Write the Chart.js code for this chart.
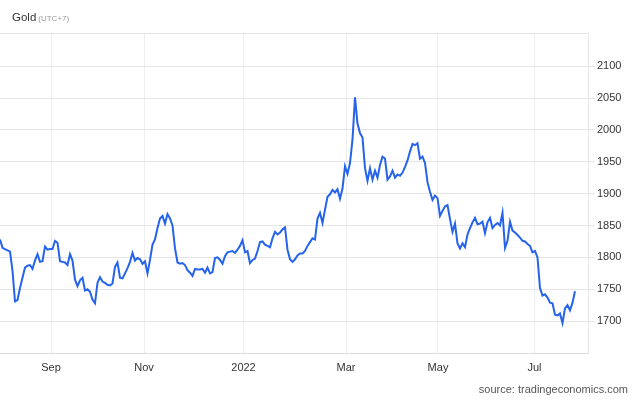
<!DOCTYPE html>
<html><head><meta charset="utf-8">
<style>html,body{margin:0;padding:0;background:#fff;}#wrap{position:relative;width:640px;height:402px;}</style>
<script src="https://cdn.jsdelivr.net/npm/chart.js@4"></script>
</head><body><div id="wrap"><canvas id="c" width="640" height="402"></canvas></div>
<script>
const goldPrices = [
1828,1815,1813,1811,1809,1779,1731,1733,1752,1768,
1784,1787,1788,1782,1795,1805,1793,1794,1817,1812,
1813,1813,1826,1823,1794,1793,1792,1788,1805,1795,
1765,1755,1764,1768,1748,1750,1746,1734,1728,1760,
1769,1762,1760,1757,1756,1759,1785,1792,1768,1767,
1775,1783,1793,1807,1795,1799,1797,1790,1794,1775,
1796,1820,1828,1846,1861,1865,1853,1868,1861,1850,
1814,1792,1790,1791,1788,1780,1776,1771,1782,1781,
1781,1782,1776,1784,1775,1777,1799,1800,1796,1790,
1802,1808,1809,1810,1807,1812,1818,1827,1808,1810,
1791,1796,1798,1810,1824,1825,1820,1818,1816,1830,
1840,1836,1839,1844,1847,1812,1797,1793,1797,1803,
1806,1806,1810,1818,1824,1830,1828,1861,1870,1854,
1875,1895,1899,1906,1902,1907,1892,1908,1943,1931,
1948,1985,2051,2010,1995,1988,1940,1920,1940,1922,
1936,1925,1945,1958,1955,1922,1927,1936,1925,1930,
1928,1933,1942,1952,1966,1978,1976,1979,1955,1958,
1948,1918,1903,1890,1897,1893,1865,1873,1880,1882,
1860,1840,1853,1822,1814,1822,1816,1836,1846,1855,
1862,1852,1853,1856,1838,1855,1862,1846,1851,1854,
1850,1870,1815,1826,1856,1842,1839,1835,1831,1826,
1825,1821,1818,1808,1810,1800,1752,1740,1742,1737,
1729,1728,1710,1709,1712,1697,1720,1725,1717,1729,
1747
];
const monthTickIndex = [20.4, 57.6, 97.4, 138.4, 175.2, 213.8];
const monthTickLabels = ['Sep', 'Nov', '2022', 'Mar', 'May', 'Jul'];
const priceTicks = [1700, 1750, 1800, 1850, 1900, 1950, 2000, 2050, 2100];
const yMin = 1650, yMax = 2152, xMax = 235.2;
const titleText = 'Gold';
const titleNote = '(UTC+7)';
const sourceText = 'source: tradingeconomics.com';

const FONT = "'Liberation Sans', Arial, sans-serif";

const textPlugin = {
  id: 'texts',
  afterDraw(chart) {
    const ctx = chart.ctx;
    ctx.save();
    ctx.textBaseline = 'alphabetic';
    ctx.textAlign = 'left';
    ctx.fillStyle = '#333';
    ctx.font = '11.5px ' + FONT;
    ctx.fillText(titleText, 12, 21);
    const w = ctx.measureText(titleText).width;
    ctx.fillStyle = '#999';
    ctx.font = '8px ' + FONT;
    ctx.fillText(titleNote, 12 + w + 2, 21);
    ctx.fillStyle = '#555';
    ctx.font = '11px ' + FONT;
    ctx.textAlign = 'right';
    ctx.fillText(sourceText, 628, 393);
    ctx.restore();
  }
};

new Chart(document.getElementById('c'), {
  type: 'line',
  data: {
    datasets: [{
      data: goldPrices.map((v, i) => ({ x: i, y: v })),
      borderColor: '#2563eb',
      borderWidth: 2,
      pointRadius: 0,
      tension: 0,
      fill: false
    }]
  },
  options: {
    responsive: false,
    animation: false,
    layout: { padding: { top: 33, left: 0, right: 0, bottom: 0 } },
    plugins: { legend: { display: false }, tooltip: { enabled: false } },
    scales: {
      x: {
        type: 'linear', min: 0, max: xMax,
        afterBuildTicks: s => { s.ticks = monthTickIndex.map(v => ({ value: v })); },
        afterFit: s => { s.height = 49; },
        ticks: {
          callback: (v, i) => monthTickLabels[i],
          autoSkip: false, maxRotation: 0,
          color: '#333', padding: 8,
          font: { size: 11, family: FONT }
        },
        grid: { color: '#eeeeee', drawTicks: false, tickLength: 0 },
        border: { display: true, color: '#dddddd' }
      },
      y: {
        position: 'right', min: yMin, max: yMax,
        afterBuildTicks: s => { s.ticks = priceTicks.concat([yMax]).map(v => ({ value: v })); },
        afterFit: s => { s.width = 52; },
        ticks: {
          callback: v => priceTicks.includes(v) ? String(v) : '',
          autoSkip: false,
          color: '#333', padding: 2,
          font: { size: 11, family: FONT }
        },
        grid: {
          color: '#e6e6e6', tickLength: 7,
          tickColor: c => (c.tick && c.tick.value === yMax) ? 'rgba(0,0,0,0)' : '#e6e6e6'
        },
        border: { display: true, color: '#e6e6e6' }
      }
    }
  },
  plugins: [textPlugin]
});
</script>
</body></html>
